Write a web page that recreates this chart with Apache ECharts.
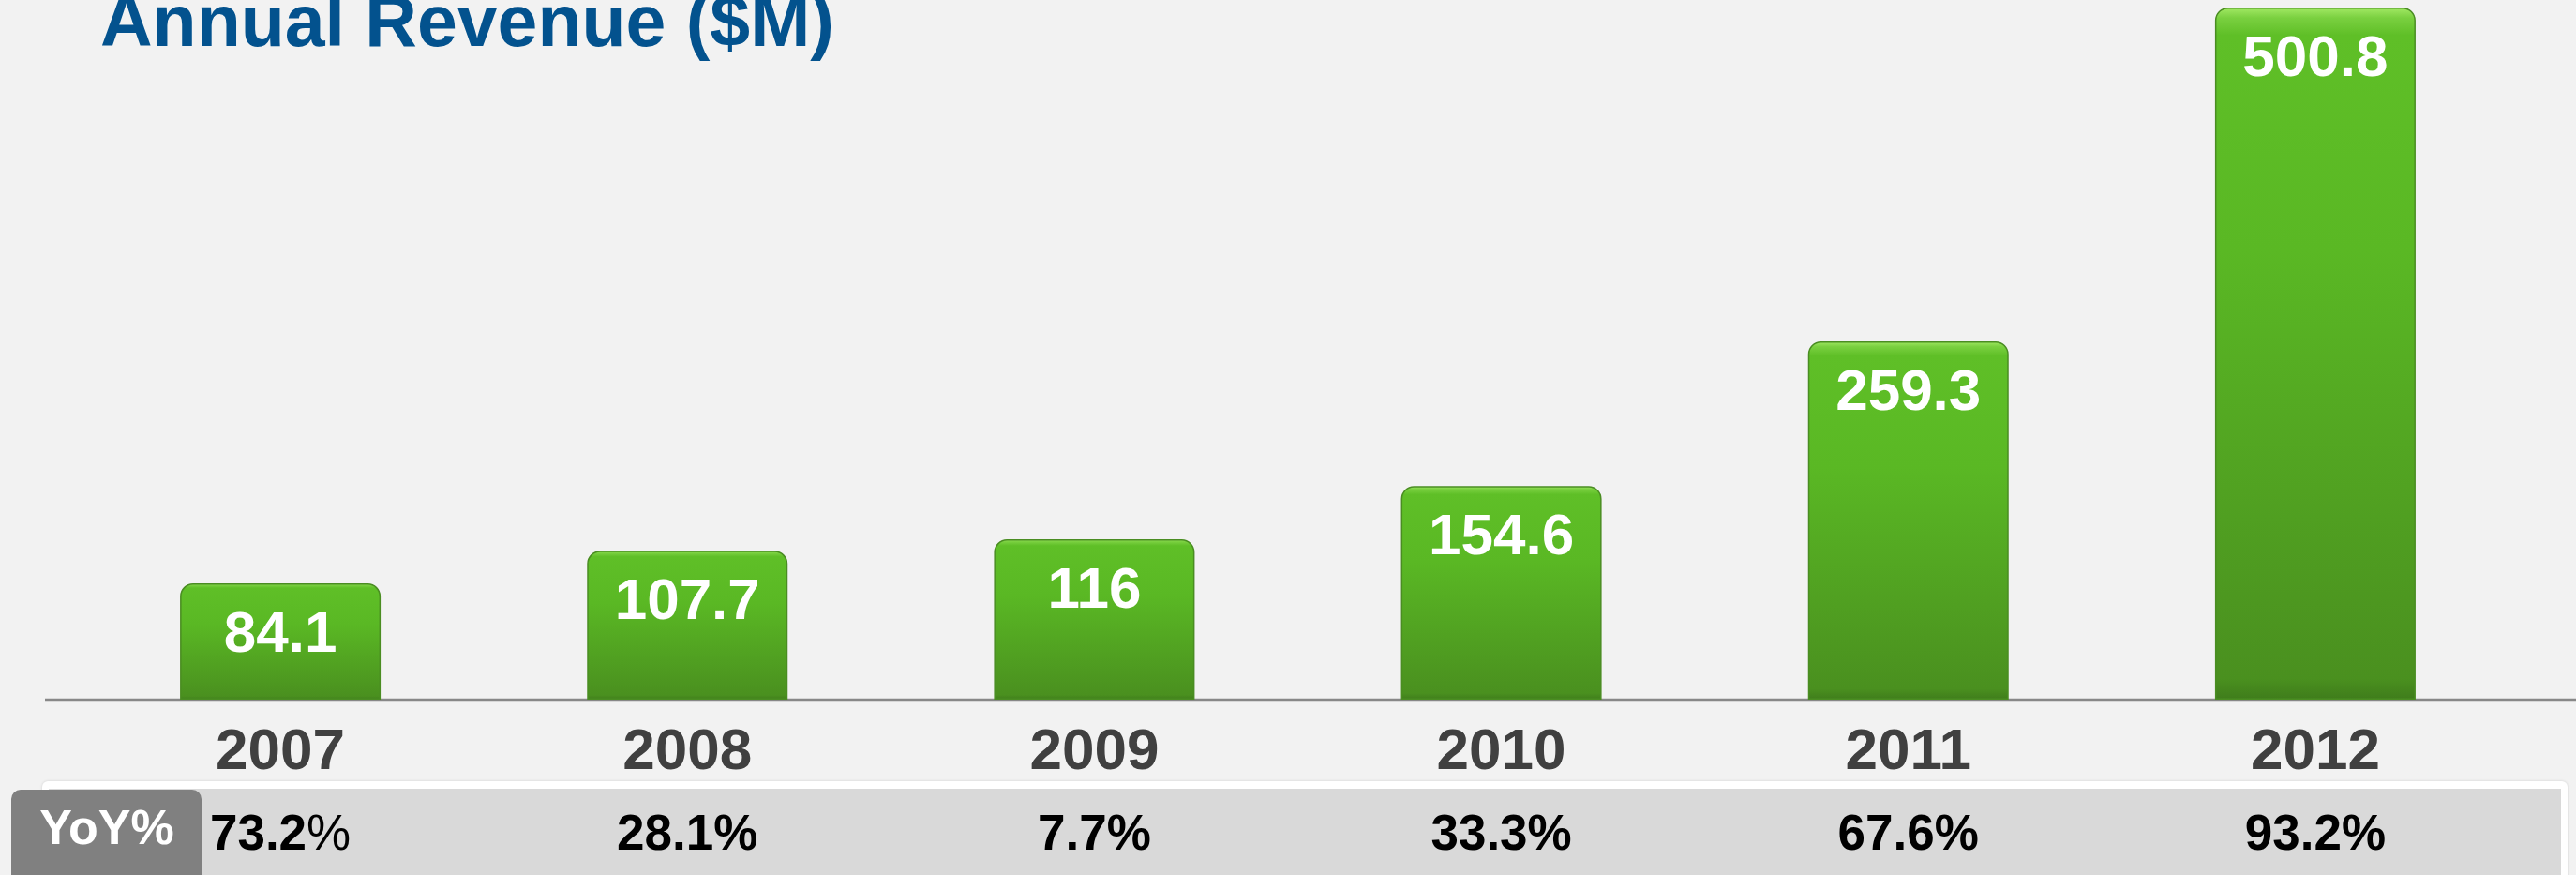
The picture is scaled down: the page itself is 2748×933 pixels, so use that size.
<!DOCTYPE html>
<html>
<head>
<meta charset="utf-8">
<script src="https://cdn.jsdelivr.net/npm/echarts@6/dist/echarts.min.js"></script>
<style>
  html, body { margin: 0; padding: 0; background: #f2f2f2; }
  #chart { width: 2748px; height: 933px; }
</style>
</head>
<body>
<div id="chart"></div>
<script>
const titleText = 'Annual Revenue ($M)';
const years = ['2007', '2008', '2009', '2010', '2011', '2012'];
const revenue = [84.1, 107.7, 116, 154.6, 259.3, 500.8];
const yoyPct = ['73.2', '28.1', '7.7', '33.3', '67.6', '93.2'];
const yoyLabel = 'YoY%';

const FONT = '"Liberation Sans", Arial, Helvetica, sans-serif';

const chart = echarts.init(document.getElementById('chart'), null, { renderer: 'canvas' });

const option = {
  backgroundColor: '#f2f2f2',
  animation: false,
  title: {
    text: titleText,
    left: 107,
    top: -11,
    padding: 0,
    textStyle: { fontFamily: FONT, fontSize: 77, fontWeight: 'bold', color: '#03528e' }
  },
  grid: { left: 82, right: 61, top: 8, bottom: 187, containLabel: false },
  xAxis: [
    {
      type: 'category',
      data: years,
      z: 10,
      axisLine: { show: false },
      axisTick: { show: false },
      axisLabel: {
        margin: 26,
        fontFamily: FONT, fontSize: 62, fontWeight: 'bold', color: '#404040'
      }
    },
    {
      type: 'category',
      data: yoyPct,
      position: 'bottom',
      offset: 111,
      z: 10,
      axisLine: { show: false },
      axisTick: { show: false },
      axisLabel: {
        margin: 8,
        fontFamily: FONT, fontSize: 53, fontWeight: 'bold', color: '#000000',
        formatter: function (v, i) {
          return i === 0 ? '{n|' + v + '}{p|%}' : '{n|' + v + '%}';
        },
        rich: {
          n: { fontFamily: FONT, fontSize: 53, fontWeight: 'bold', color: '#000000' },
          p: { fontFamily: FONT, fontSize: 53, fontWeight: 'normal', color: '#000000' }
        }
      }
    }
  ],
  yAxis: {
    type: 'value',
    min: 0,
    max: Math.max.apply(null, revenue),
    show: false,
    splitLine: { show: false }
  },
  graphic: {
    elements: [
      { type: 'line', z: -10, shape: { x1: 48, y1: 746, x2: 2748, y2: 746 },
        style: { stroke: '#888888', lineWidth: 2.5 } },
      { type: 'rect', z: -10, shape: { x: 45, y: 833, width: 2694, height: 120, r: 6 },
        style: { fill: '#ffffff', shadowBlur: 3, shadowColor: 'rgba(0,0,0,0.15)' } },
      { type: 'rect', z: -9, shape: { x: 52, y: 841, width: 2680, height: 100 },
        style: { fill: '#d9d9d9' } },
      { type: 'rect', z: -8, shape: { x: 12, y: 842, width: 203, height: 110, r: 10 },
        style: { fill: '#808080' } },
      { type: 'text', z: -7, x: 114, y: 886,
        style: { text: yoyLabel, fill: '#ffffff', align: 'center', verticalAlign: 'middle',
          font: 'bold 52px "Liberation Sans Narrow", "Arial Narrow", "Liberation Sans", Arial, sans-serif' } }
    ]
  },
  series: [
    {
      type: 'bar',
      xAxisIndex: 0,
      data: revenue,
      barWidth: 214,
      z: 5,
      itemStyle: {
        borderRadius: [13, 13, 0, 0],
        borderColor: '#4a8d22',
        borderWidth: 1.5,
        color: new echarts.graphic.LinearGradient(0, 0, 0, 1, [
          { offset: 0, color: '#a4ea66' },
          { offset: 0.015, color: '#7ad040' },
          { offset: 0.04, color: '#5fbf27' },
          { offset: 0.35, color: '#5ab824' },
          { offset: 0.97, color: '#4a901f' },
          { offset: 1, color: '#3f7c1b' }
        ])
      },
      label: {
        show: true,
        position: 'insideTop',
        distance: 25,
        fontFamily: FONT, fontSize: 62, fontWeight: 'bold', color: '#ffffff'
      }
    }
  ]
};

chart.setOption(option);
</script>
</body>
</html>
